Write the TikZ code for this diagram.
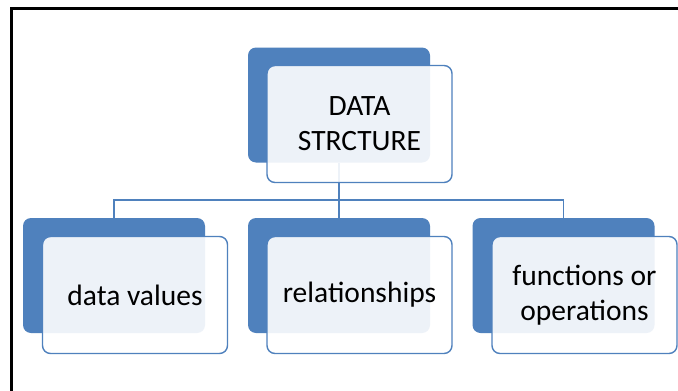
\documentclass[tikz,border=0pt]{standalone}
\usepackage{fontspec}
\setmainfont{Carlito}
\definecolor{ofblue}{HTML}{4F81BD}
\begin{document}
\begin{tikzpicture}[x=1pt,y=-1pt,
  backbox/.style={rectangle, fill=ofblue, draw=none, rounded corners=8pt,
    minimum width=182pt, minimum height=115pt, inner sep=0pt},
  frontbox/.style={rectangle, draw=ofblue, line width=1.4pt, fill=white,
    fill opacity=0.9, text opacity=1, rounded corners=8pt,
    minimum width=185pt, minimum height=117pt, inner sep=0pt,
    align=center, text=black, font=\fontsize{29.5}{35}\selectfont},
  conn/.style={draw=ofblue, line width=1.4pt},
  frame/.style={draw=black, line width=3pt}]
\useasboundingbox (0,0) rectangle (678,391);
\fill[white] (0,0) rectangle (678,391);

% outer frame: left and top edges only
\draw[frame] (11,391) -- (11,8) -- (678,8);

% back (solid) boxes
\node[backbox] (tb) at (339,105) {};
\node[backbox] (lb) at (114,275.5) {};
\node[backbox] (mb) at (339,275.5) {};
\node[backbox] (rb) at (563.5,275.5) {};

% tree connectors
\coordinate (bus) at (339,200);
\draw[conn] (tb.south) -- (mb.north);
\draw[conn] (lb.north) -- (lb.north |- bus) -- (rb.north |- bus) -- (rb.north);

% front (label) boxes
\node[frontbox] (tf) at (359.5,124) {DATA\\STRCTURE};
\node[frontbox] (lf) at (135,295) {data values};
\node[frontbox] (mf) at (359.5,295) {relationships};
\node[frontbox] (rf) at (584.5,295) {functions or\\operations};
\end{tikzpicture}
\end{document}
